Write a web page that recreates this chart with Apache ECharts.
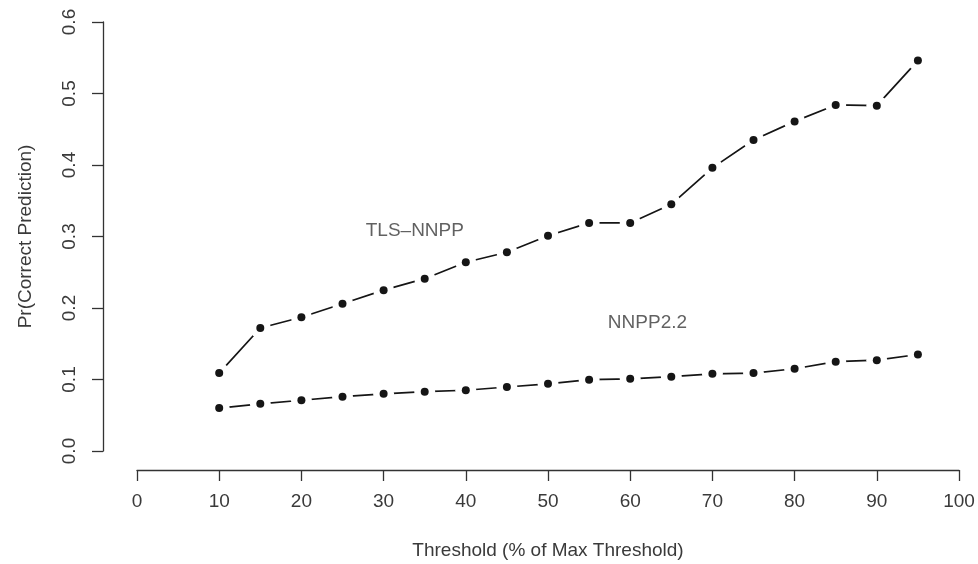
<!DOCTYPE html>
<html lang="en">
<head>
  <meta charset="UTF-8">
  <title>threshold</title>
  <style>
    * {
      padding: 0;
      margin: 0;
    }
    #charts {
      width: 978px;
      height: 564px;
      background: #fff;
    }
  </style>
</head>
<body>
  <div id="charts"></div>
</body>
<script src="https://cdn.jsdelivr.net/npm/echarts@6/dist/echarts.min.js" type="text/javascript"></script>
<script type="text/javascript">
  // thresholds (% of max threshold)
  var thresholds = [10, 15, 20, 25, 30, 35, 40, 45, 50, 55, 60, 65, 70, 75, 80, 85, 90, 95]
  var tlsNnpp = [0.109, 0.172, 0.187, 0.206, 0.225, 0.241, 0.264, 0.278, 0.301, 0.319, 0.319, 0.345, 0.396, 0.435, 0.461, 0.484, 0.483, 0.546]
  var nnpp22 = [0.060, 0.066, 0.071, 0.076, 0.080, 0.083, 0.085, 0.0895, 0.094, 0.0997, 0.101, 0.104, 0.108, 0.109, 0.115, 0.125, 0.127, 0.135]
  // text labels placed inside the plot, in data units
  var labelNames = ['TLS\u2013NNPP', 'NNPP2.2']
  var labelX = [33.8, 62.1]
  var labelY = [0.308, 0.180]

  var font = "'Liberation Sans', Arial, sans-serif"
  var ink = '#151515'
  var textColor = '#3a3a3a'

  function pairs(ys) {
    return thresholds.map(function (x, i) { return [x, ys[i]] })
  }

  // R type="b": line, white gap around each point, then the point
  function seriesFor(name, ys) {
    var data = pairs(ys)
    return [{
      name: name,
      type: 'line',
      data: data,
      showSymbol: false,
      lineStyle: { color: ink, width: 1.7 },
      z: 2
    }, {
      name: name + '-gap',
      type: 'scatter',
      data: data,
      symbol: 'circle',
      symbolSize: 21,
      itemStyle: { color: '#fff', opacity: 1 },
      silent: true,
      z: 3
    }, {
      name: name + '-pts',
      type: 'scatter',
      data: data,
      symbol: 'circle',
      symbolSize: 8,
      itemStyle: { color: ink, opacity: 1 },
      z: 4
    }]
  }

  var myChart = echarts.init(document.getElementById('charts'))

  var series = [].concat(seriesFor('TLS-NNPP', tlsNnpp), seriesFor('NNPP2.2', nnpp22))
  series.push({
    name: 'labels',
    type: 'scatter',
    symbolSize: 1,
    itemStyle: { color: 'rgba(0,0,0,0)' },
    label: {
      show: true,
      position: 'inside',
      formatter: function (p) { return p.name },
      fontFamily: font,
      fontSize: 19,
      color: textColor
    },
    data: labelNames.map(function (n, i) { return { name: n, value: [labelX[i], labelY[i]] } }),
    z: 5
  })

  var option = {
    animation: false,
    backgroundColor: '#fff',
    grid: {
      left: 137,
      right: 19,
      top: 22,
      bottom: 113,
      containLabel: false,
      outerBoundsMode: 'none'
    },
    xAxis: {
      type: 'value',
      min: 0,
      max: 100,
      interval: 10,
      offset: 19,
      name: 'Threshold (% of Max Threshold)',
      nameLocation: 'middle',
      nameGap: 71,
      nameTextStyle: { fontFamily: font, fontSize: 19, color: textColor },
      axisLine: { show: true, onZero: false, lineStyle: { color: '#333', width: 1.3 } },
      axisTick: { show: true, length: 11, lineStyle: { color: '#333', width: 1.3 } },
      axisLabel: { margin: 22, fontFamily: font, fontSize: 19, color: textColor },
      splitLine: { show: false }
    },
    yAxis: {
      type: 'value',
      min: 0,
      max: 0.6,
      interval: 0.1,
      offset: 34,
      name: 'Pr(Correct Prediction)',
      nameLocation: 'middle',
      nameGap: 68,
      nameTextStyle: { fontFamily: font, fontSize: 19, color: textColor },
      axisLine: { show: true, onZero: false, lineStyle: { color: '#333', width: 1.3 } },
      axisTick: { show: true, length: 11, lineStyle: { color: '#333', width: 1.3 } },
      axisLabel: {
        rotate: 90,
        margin: 24,
        fontFamily: font,
        fontSize: 19,
        color: textColor,
        formatter: function (v) { return v.toFixed(1) }
      },
      splitLine: { show: false }
    },
    series: series
  }
  myChart.setOption(option)
</script>
</html>
